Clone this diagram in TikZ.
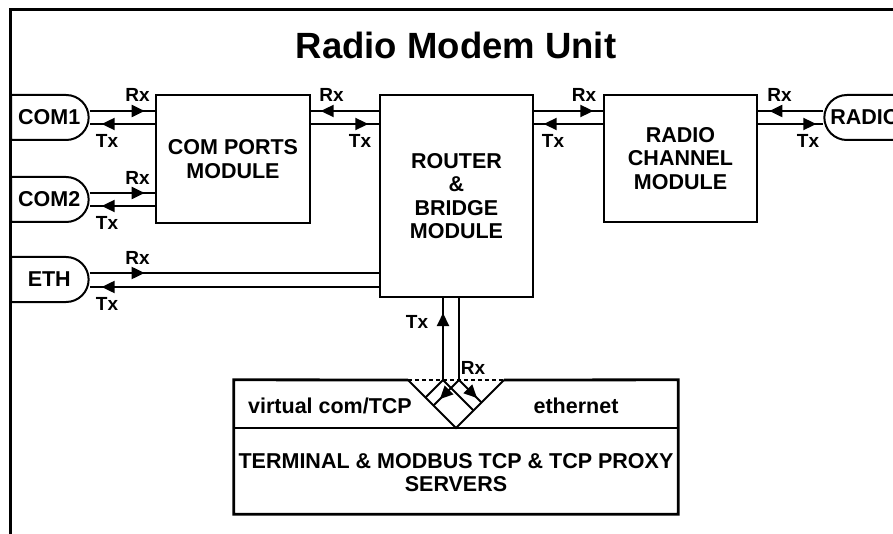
\documentclass[tikz,border=0pt]{standalone}
\usepackage{fontspec}
\setmainfont{Liberation Sans}
\usetikzlibrary{shapes.misc,arrows.meta,decorations.markings}

\newcommand\mdlfont{\fontsize{21.5}{23.5}\selectfont\bfseries}
\newcommand\rxfont{\fontsize{19}{19}\selectfont\bfseries}

\tikzset{
  unitframe/.style={line width=3pt},
  module/.style={draw,line width=2.6pt,inner sep=0pt,align=center,font=\mdlfont},
  port/.style={draw,line width=2pt,rounded rectangle,inner sep=0pt,
    minimum height=45pt,minimum width=77.5pt,font=\mdlfont},
  link/.style={line width=2pt},
  sig/.style={font=\rxfont,inner sep=0pt},
  tipat/.style={postaction={decorate,decoration={markings,
    mark=at position #1 with {\arrow{Triangle[length=13pt,width=12pt]}}}}}
}

\begin{document}
\begin{tikzpicture}[x=1pt,y=-1pt]
  \useasboundingbox (0,0) rectangle (893,534);
  % Frame and title
  \draw[unitframe] (10.5,9.5) rectangle (920,560);
  \node[font=\fontsize{36.5}{36.5}\selectfont\bfseries] (title) at (456,45) {Radio Modem Unit};
  % Modules
  \node[module,minimum width=154pt,minimum height=128pt] (comports) at (233,159) {COM PORTS\\MODULE};
  \node[module,minimum width=153pt,minimum height=202pt] (router) at (456.5,196) {ROUTER\\\&\\BRIDGE\\MODULE};
  \node[module,minimum width=153pt,minimum height=127pt] (radioch) at (680.5,158.5) {RADIO\\CHANNEL\\MODULE};
  % Ports
  \node[port,rounded rectangle west arc=none] (com1) at (49.25,117.5) {COM1};
  \node[port,rounded rectangle west arc=none] (com2) at (49.25,199.5) {COM2};
  \node[port,rounded rectangle west arc=none] (eth) at (49.25,279.5) {ETH};
  \node[port,rounded rectangle east arc=none,minimum width=80pt] (radio) at (865,117.5) {RADIO};
  % Links
  \foreach \p in {com1,com2} {
    \path ([yshift=6.5pt]\p.east) coordinate (\p-rx) ([yshift=-6.5pt]\p.east) coordinate (\p-tx);
    \draw[link,tipat=55pt] (\p-rx) -- (\p-rx -| comports.west);
    \draw[link,tipat=-12pt] (\p-tx -| comports.west) -- (\p-tx);
  }
  \path ([yshift=6.5pt]eth.east) coordinate (eth-rx) ([yshift=-7.5pt]eth.east) coordinate (eth-tx);
  \draw[link,tipat=55pt] (eth-rx) -- (eth-rx -| router.west);
  \draw[link,tipat=-12pt] (eth-tx -| router.west) -- (eth-tx);
  \draw[link,tipat=58pt] (com1-rx -| router.west) -- (com1-rx -| comports.east);
  \draw[link,tipat=57pt] (com1-tx -| comports.east) -- (com1-tx -| router.west);
  \draw[link,tipat=59pt] (com1-rx -| router.east) -- (com1-rx -| radioch.west);
  \draw[link,tipat=59pt] (com1-tx -| radioch.west) -- (com1-tx -| router.east);
  \draw[link,tipat=54pt] (com1-rx -| radio.west) -- (com1-rx -| radioch.east);
  \draw[link,tipat=58pt] (com1-tx -| radioch.east) -- (com1-tx -| radio.west);
  % Servers
  \node[minimum width=444pt,minimum height=134pt,inner sep=0pt] (server) at (456,447) {};
  \coordinate (vl) at (408,380);
  \coordinate (vb) at (456,428);
  \coordinate (vr) at (504,380);
  \coordinate (tx) at (443,380);
  \coordinate (rx) at (459,380);
  \draw[line width=2.8pt] (vl) -- (server.north west) -- (server.south west)
    -- (server.south east) -- (server.north east) -- (vr);
  \draw[link,dash pattern=on 4pt off 3pt] (vl) -- (vr);
  \draw[link] (server.west |- vb) -- (server.east |- vb);
  \draw[link] (vl) -- (vb) -- (vr);
  \draw[link,tipat=67pt] (tx) -- (tx |- router.south);
  \draw[link] (rx) -- (rx |- router.south);
  \draw[link] (tx) -- (425.5,397.5);
  \draw[link,tipat=27pt] (rx) -- (433.5,405.5);
  \draw[link] (tx) -- (473.5,410.5);
  \draw[link,tipat=25.5pt] (rx) -- (481.5,402.5);
  \node[font=\mdlfont] (vcom) at (330,405.5) {virtual com/TCP};
  \node[font=\mdlfont] (ethn) at (576,405.5) {ethernet};
  \node[font=\mdlfont,align=center] (srv) at (456,472.5) {TERMINAL \& MODBUS TCP \& TCP PROXY\\SERVERS};
  % Labels
  \node[sig] (rx1) at (137.5,95) {Rx};
  \node[sig] (tx1) at (107,141) {Tx};
  \node[sig] (rx2) at (137.5,178) {Rx};
  \node[sig] (tx2) at (107,223) {Tx};
  \node[sig] (rx3) at (137.5,258) {Rx};
  \node[sig] (tx3) at (107,304) {Tx};
  \node[sig] (rx4) at (331.5,95) {Rx};
  \node[sig] (tx4) at (360,141) {Tx};
  \node[sig] (rx5) at (584,95) {Rx};
  \node[sig] (tx5) at (553,141) {Tx};
  \node[sig] (rx6) at (779.5,95) {Rx};
  \node[sig] (tx6) at (808,141) {Tx};
  \node[sig] (tx7) at (417,322) {Tx};
  \node[sig] (rx7) at (473,368) {Rx};
\end{tikzpicture}
\end{document}
